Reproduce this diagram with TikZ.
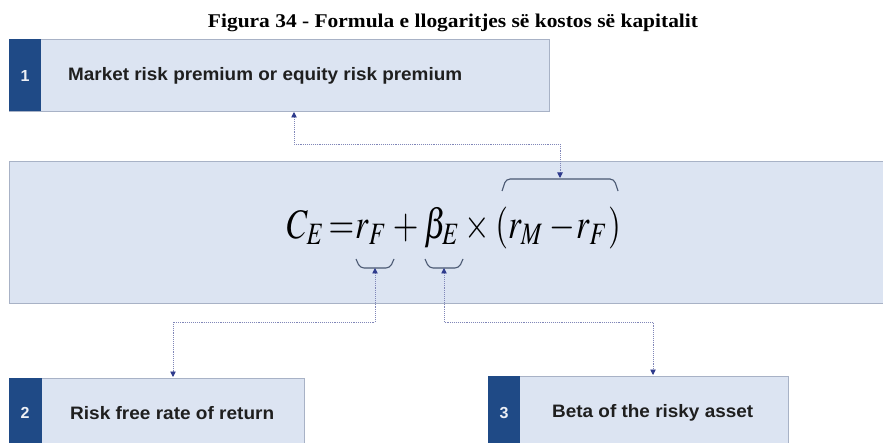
\documentclass[tikz,border=0pt]{standalone}
\usepackage{mathptmx}
\usepackage[no-math]{fontspec}
\setmainfont{Liberation Serif}
\newfontfamily\arialfam{Liberation Sans}
\usepackage{graphicx}
\usetikzlibrary{arrows.meta}
\definecolor{stripecol}{HTML}{1F4A86}
\definecolor{boxfill}{HTML}{DCE4F2}
\definecolor{boxline}{HTML}{A8B2C6}
\definecolor{conncol}{HTML}{8086B8}
\definecolor{tipcol}{HTML}{2E3A8C}
\definecolor{bracecol}{HTML}{4A5872}
\newcommand{\fitw}[2]{\resizebox{#1}{\height}{#2}}
\begin{document}
\begin{tikzpicture}[x=1pt,y=-1pt,
  panel/.style={draw=boxline, fill=boxfill, line width=0.9pt, inner sep=0pt, anchor=north west},
  stripebox/.style={fill=stripecol, draw=none, inner sep=0pt, anchor=north west},
  numlabel/.style={text=white!92!stripecol, inner sep=0pt, font=\arialfam\bfseries\fontsize{16}{16}\selectfont},
  boxlabel/.style={anchor=west, inner sep=0pt, text=black!88, font=\arialfam\bfseries\fontsize{18}{18}\selectfont},
  tiptri/.tip={Triangle[width=5.5pt,length=5.5pt,color=tipcol]},
  conn/.style={draw=conncol, densely dotted, line width=0.9pt, tiptri-tiptri},
  bracestyle/.style={draw=bracecol, line width=1.1pt, rounded corners=4pt}]
\useasboundingbox (0,0) rectangle (883,443);
\fill[white] (0,0) rectangle (883,443);

% title
\node[inner sep=0pt] (title) at (453,23)
  {\resizebox{490pt}{13.5pt}{\fontsize{19}{19}\selectfont\bfseries Figura 34 - Formula e llogaritjes së kostos së kapitalit}};

% box 1
\node[panel, minimum width=540pt, minimum height=72pt] (b1) at (9,39) {};
\node[stripebox, minimum width=32pt, minimum height=72pt] (s1) at (9,39) {};
\node[numlabel] (n1) at (25,76) {1};
\node[boxlabel] (t1) at (68,76) {\fitw{394pt}{Market risk premium or equity risk premium}};

% formula box
\node[panel, minimum width=890pt, minimum height=142pt] (fb) at (9,161) {};
\node[inner sep=0pt] (formula) at (454,228)
  {\resizebox*{334pt}{42pt}{$C_E\mkern2mu{=}\mkern1mu r_F\mkern3mu{+}\mkern3mu\beta_E\mkern2mu{\times}\mkern1mu\left(r_M\mkern3mu{-}\mkern1mu r_F\right)$}};

% braces
\draw[bracestyle] (502,191) -- (506,179) -- (614,179) -- (618,191);
\draw[bracestyle] (356,259) -- (360,268) -- (390,268) -- (394,259);
\draw[bracestyle] (425,259) -- (429,268) -- (459,268) -- (463,259);

% box 2
\node[panel, minimum width=295pt, minimum height=80pt] (b2) at (9,378) {};
\node[stripebox, minimum width=33pt, minimum height=80pt] (s2) at (9,378) {};
\node[numlabel] (n2) at (25,413) {2};
\node[boxlabel] (t2) at (70,413) {\fitw{204pt}{Risk free rate of return}};

% box 3
\node[panel, minimum width=300pt, minimum height=80pt] (b3) at (488,376) {};
\node[stripebox, minimum width=32pt, minimum height=80pt] (s3) at (488,376) {};
\node[numlabel] (n3) at (504,413) {3};
\node[boxlabel] (t3) at (552,413) {\fitw{201pt}{Beta of the risky asset}};

% connector ends
\coordinate (b1p) at (294,112);
\coordinate (ubt) at (560,178);
\coordinate (lb1) at (375,268);
\coordinate (lb2) at (444,268);
\coordinate (b2p) at (173,377);
\coordinate (b3p) at (653,375);

\draw[conn] (b1p) -- ++(0,32) -| (ubt);
\draw[conn] (lb1) -- ++(0,54) -| (b2p);
\draw[conn] (lb2) -- ++(0,54) -| (b3p);
\end{tikzpicture}
\end{document}
